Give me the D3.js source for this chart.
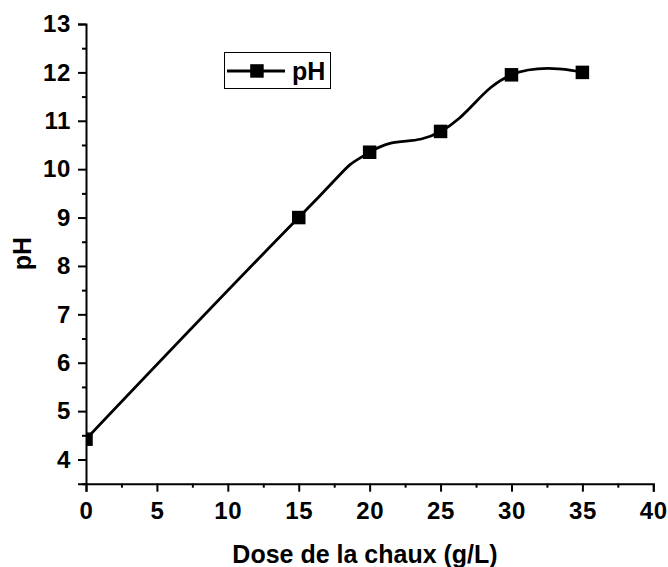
<!DOCTYPE html>
<html>
<head>
<meta charset="utf-8">
<script src="https://cdn.jsdelivr.net/npm/d3@7"></script>
<style>
  html, body { margin: 0; padding: 0; background: #fff; }
  svg { display: block; font-family: "Liberation Sans", Arial, sans-serif; }
</style>
</head>
<body>
<svg id="chart" width="668" height="567"></svg>
<script>
const doses = [0, 15, 20, 25, 30, 35];
const phValues = [4.42, 9.0, 10.35, 10.78, 11.95, 12.0];
const xTicks = [0, 5, 10, 15, 20, 25, 30, 35, 40];
const yTicks = [4, 5, 6, 7, 8, 9, 10, 11, 12, 13];
const seriesName = "pH";
const xTitle = "Dose de la chaux (g/L)";
const yTitle = "pH";

const svg = d3.select("#chart");
const x = d3.scaleLinear().domain([0, 40]).range([86, 653.3]);
const y = d3.scaleLinear().domain([3.5, 13]).range([483.7, 24]);
const data = doses.map((d, i) => ({ x: d, y: phValues[i] }));

svg.append("defs").append("clipPath").attr("id", "plotclip")
  .append("rect").attr("x", x(0)).attr("y", 0).attr("width", x(40) - x(0) + 10).attr("height", y(3.5));

const xAxis = svg.append("g").attr("transform", `translate(0,${y(3.5)})`);
xAxis.call(d3.axisBottom(x).tickValues(xTicks).tickSize(8).tickPadding(10).tickFormat(d3.format("d")));
const xMinor = svg.append("g").attr("transform", `translate(0,${y(3.5)})`);
xMinor.call(d3.axisBottom(x).tickValues(d3.range(2.5, 40, 5)).tickSize(4).tickFormat(""));
xMinor.select(".domain").remove();

const yAxis = svg.append("g").attr("transform", `translate(${x(0)},0)`);
yAxis.call(d3.axisLeft(y).tickValues(yTicks).tickSize(8).tickPadding(7).tickFormat(d3.format("d")));
const yMinor = svg.append("g").attr("transform", `translate(${x(0)},0)`);
yMinor.call(d3.axisLeft(y).tickValues(d3.range(3.5, 13, 1)).tickSize(4).tickFormat(""));
yMinor.select(".domain").remove();

svg.selectAll(".domain").attr("stroke", "#000").attr("stroke-width", 2);
svg.selectAll(".tick line").attr("stroke", "#000").attr("stroke-width", 2);
svg.selectAll(".tick text")
  .attr("font-family", "'Liberation Sans', Arial, sans-serif")
  .attr("font-size", 24).attr("font-weight", "bold").attr("fill", "#000")
  .attr("letter-spacing", 0.6);

const plot = svg.append("g").attr("clip-path", "url(#plotclip)");
const line = d3.line().x(d => x(d.x)).y(d => y(d.y)).curve(d3.curveCardinal.tension(-0.3));
plot.append("path").datum(data).attr("d", line)
  .attr("fill", "none").attr("stroke", "#000").attr("stroke-width", 2.8);
const ms = 13.5;
plot.selectAll("rect.m").data(data).enter().append("rect")
  .attr("x", d => x(d.x) - ms / 2).attr("y", d => y(d.y) - ms / 2)
  .attr("width", ms).attr("height", ms).attr("fill", "#000");

const lg = svg.append("g");
lg.append("rect").attr("x", 224.5).attr("y", 52.5).attr("width", 106).attr("height", 36)
  .attr("fill", "#fff").attr("stroke", "#000").attr("stroke-width", 1);
lg.append("line").attr("x1", 227).attr("x2", 285).attr("y1", 71).attr("y2", 71)
  .attr("stroke", "#000").attr("stroke-width", 2.8);
lg.append("rect").attr("x", 250.2).attr("y", 64.2).attr("width", ms).attr("height", ms).attr("fill", "#000");
lg.append("text").attr("x", 292).attr("y", 80).text(seriesName)
  .attr("font-size", 25).attr("font-weight", "bold");

svg.append("text").attr("x", 365).attr("y", 563).attr("text-anchor", "middle")
  .attr("font-size", 25).attr("font-weight", "bold").text(xTitle);
svg.append("text").attr("transform", `translate(30.6,253.5) rotate(-90)`).attr("text-anchor", "middle")
  .attr("font-size", 25).attr("font-weight", "bold").text(yTitle);
</script>
</body>
</html>
